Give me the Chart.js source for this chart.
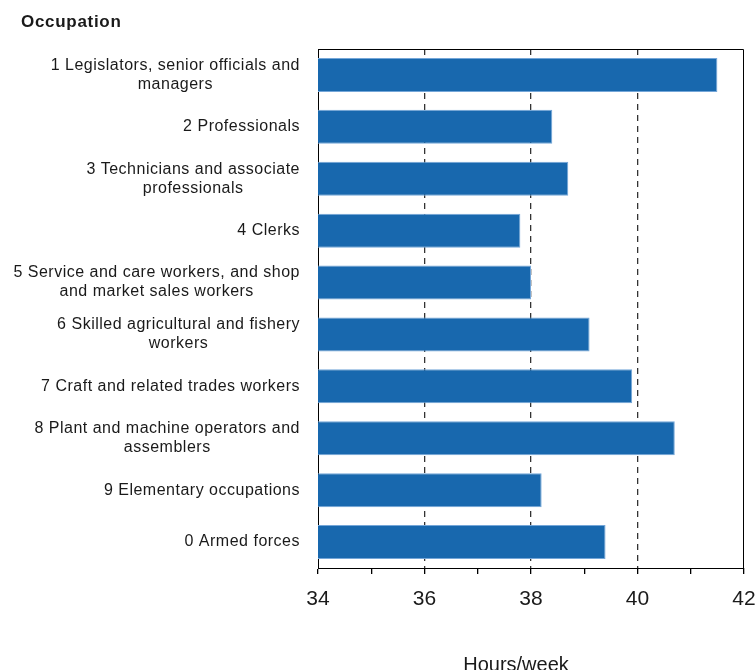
<!DOCTYPE html>
<html>
<head>
<meta charset="utf-8">
<script src="https://cdn.jsdelivr.net/npm/chart.js@4/dist/chart.umd.min.js"></script>
<style>
  html, body { margin: 0; padding: 0; background: #ffffff; }
  #wrap { width: 756px; height: 670px; }
</style>
</head>
<body>
<div id="wrap"><canvas id="c" width="756" height="670"></canvas></div>
<script>
// ---- data ----
const categories = [
  ['1 Legislators, senior officials and', 'managers'],
  ['2 Professionals'],
  ['3 Technicians and associate', 'professionals'],
  ['4 Clerks'],
  ['5 Service and care workers, and shop', 'and market sales workers'],
  ['6 Skilled agricultural and fishery', 'workers'],
  ['7 Craft and related trades workers'],
  ['8 Plant and machine operators and', 'assemblers'],
  ['9 Elementary occupations'],
  ['0 Armed forces']
];
const hoursPerWeek = [41.5, 38.4, 38.7, 37.8, 38.0, 39.1, 39.9, 40.7, 38.2, 39.4];
const xMin = 34;
const xMax = 42;
const xStep = 1;
const xLabelledTicks = [34, 36, 38, 40, 42];
const xGridTicks = [36, 38, 40];
const yAxisTitle = 'Occupation';
const xAxisTitle = 'Hours/week';

const TEXT = '#1a1a1a';

const labelPlugin = {
  id: 'labelPlugin',
  afterDraw(chart) {
    const ctx = chart.ctx;
    const area = chart.chartArea;
    const yScale = chart.scales.y;
    ctx.save();
    // frame around plot area
    ctx.strokeStyle = '#000';
    ctx.lineWidth = 1;
    ctx.beginPath();
    ctx.moveTo(Math.round(area.left) + 0.5, Math.round(area.top) + 0.5);
    ctx.lineTo(Math.round(area.right) - 0.5, Math.round(area.top) + 0.5);
    ctx.lineTo(Math.round(area.right) - 0.5, Math.round(area.bottom) + 0.5);
    ctx.stroke();

    // category labels: right-aligned blocks, lines centred within block
    ctx.fillStyle = TEXT;
    ctx.font = '16px "Liberation Sans", Arial, sans-serif';
    try { ctx.letterSpacing = '0.5px'; } catch (e) {}
    ctx.textBaseline = 'middle';
    ctx.textAlign = 'center';
    const rightEdge = area.left - 18;
    const lh = 19;
    chart.data.labels.forEach((lab, i) => {
      const lines = Array.isArray(lab) ? lab : [lab];
      const yc = yScale.getPixelForTick(i);
      let maxW = 0;
      lines.forEach(l => { maxW = Math.max(maxW, ctx.measureText(l).width); });
      const cx = rightEdge - maxW / 2;
      const y0 = yc - (lines.length - 1) * lh / 2;
      lines.forEach((l, k) => ctx.fillText(l, cx, y0 + k * lh));
    });

    // axis titles
    ctx.textAlign = 'left';
    ctx.textBaseline = 'alphabetic';
    ctx.font = 'bold 17px "Liberation Sans", Arial, sans-serif';
    try { ctx.letterSpacing = '0.7px'; } catch (e) {}
    ctx.fillText(yAxisTitle, 21, 27);
    ctx.font = '20px "Liberation Sans", Arial, sans-serif';
    try { ctx.letterSpacing = '0px'; } catch (e) {}
    ctx.textAlign = 'center';
    ctx.fillText(xAxisTitle, 516, 671);
    ctx.restore();
  }
};

new Chart(document.getElementById('c'), {
  type: 'bar',
  data: {
    labels: categories,
    datasets: [{
      data: hoursPerWeek,
      backgroundColor: '#1868AE',
      borderColor: '#74A6D8',
      borderWidth: 1,
      borderSkipped: false,
      categoryPercentage: 1.0,
      barPercentage: 0.655
    }]
  },
  options: {
    indexAxis: 'y',
    responsive: false,
    animation: false,
    devicePixelRatio: 1,
    layout: { padding: { top: 49, right: 12, left: 0, bottom: 0 } },
    plugins: {
      legend: { display: false },
      tooltip: { enabled: false },
      title: { display: false }
    },
    scales: {
      x: {
        type: 'linear',
        min: xMin,
        max: xMax,
        position: 'bottom',
        afterFit(scale) { scale.height = 102; scale.paddingLeft = 0; scale.paddingRight = 0; },
        ticks: {
          stepSize: xStep,
          autoSkip: false,
          maxRotation: 0,
          padding: 13,
          color: TEXT,
          font: { family: '"Liberation Sans", Arial, sans-serif', size: 21 },
          callback: (v) => xLabelledTicks.includes(v) ? String(v) : ''
        },
        grid: {
          display: true,
          drawOnChartArea: true,
          drawTicks: true,
          tickLength: 6,
          tickColor: '#000',
          lineWidth: 1.3,
          color: (ctx) => (ctx.tick && xGridTicks.includes(ctx.tick.value)) ? '#333333' : 'rgba(0,0,0,0)'
        },
        border: { display: true, color: '#000', width: 1, dash: [6, 5] }
      },
      y: {
        type: 'category',
        position: 'left',
        afterFit(scale) { scale.width = 318; },
        ticks: { display: false },
        grid: { display: false },
        border: { display: true, color: '#000', width: 1 }
      }
    }
  },
  plugins: [labelPlugin]
});
</script>
</body>
</html>
